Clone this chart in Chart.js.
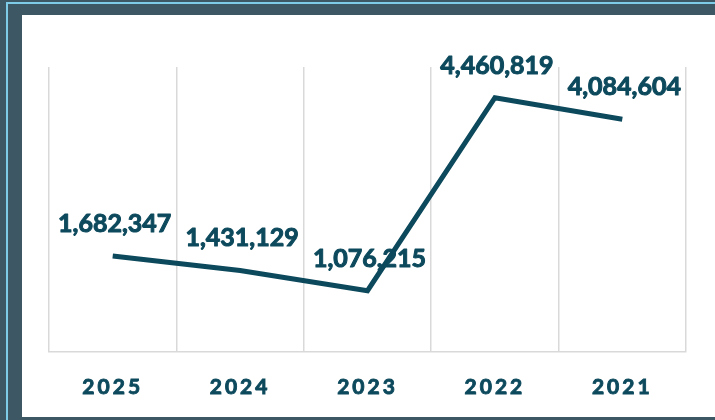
<!DOCTYPE html>
<html>
<head>
<meta charset="utf-8">
<script src="https://cdn.jsdelivr.net/npm/chart.js@4/dist/chart.umd.min.js"></script>
<style>
  html, body { margin: 0; padding: 0; }
  body { width: 715px; height: 420px; overflow: hidden; background: #3e5765; position: relative; }
  .stripe { position: absolute; left: 6px; top: 2px; width: 740px; height: 440px;
            border-left: 2px solid #7ecbe8; border-top: 2px solid #7ecbe8; }
  .panel { position: absolute; left: 22px; top: 15px; width: 720px; height: 402px; background: #ffffff; }
  #chart { position: absolute; left: 0; top: 0; }
</style>
</head>
<body>
<div class="stripe"></div>
<div class="panel"></div>
<canvas id="chart" width="715" height="420"></canvas>
<script>
const years = ['2025', '2024', '2023', '2022', '2021'];
const totals = [1682347, 1431129, 1076215, 4460819, 4084604];
const yMax = 5000000;

const ink = '#0c495c';

// tick labels are spaced out a bit, values drawn above each point
const spacing = {
    id: 'spacing',
    beforeDraw(chart) { chart.ctx.letterSpacing = '3px'; },
    beforeDatasetsDraw(chart) { chart.ctx.letterSpacing = '0px'; }
};

const valueLabels = {
    id: 'valueLabels',
    afterDatasetsDraw(chart) {
        const ctx = chart.ctx;
        const meta = chart.getDatasetMeta(0);
        ctx.save();
        ctx.font = 'bold 25px Lato';
        ctx.fillStyle = ink;
        ctx.strokeStyle = ink;
        ctx.lineWidth = 1;
        ctx.lineJoin = 'round';
        ctx.textAlign = 'center';
        ctx.textBaseline = 'middle';
        meta.data.forEach((pt, i) => {
            const txt = totals[i].toLocaleString('en-US');
            ctx.strokeText(txt, pt.x + 2, pt.y - 32);
            ctx.fillText(txt, pt.x + 2, pt.y - 32);
        });
        ctx.restore();
    }
};

Chart.defaults.font.family = 'Lato';

new Chart(document.getElementById('chart'), {
    type: 'line',
    data: {
        labels: years,
        datasets: [{
            data: totals,
            borderColor: ink,
            borderWidth: 5,
            borderJoinStyle: 'miter',
            pointRadius: 0,
            tension: 0,
            fill: false
        }]
    },
    options: {
        responsive: false,
        animation: false,
        layout: { padding: { left: 49, right: 29, top: 67, bottom: 0 } },
        plugins: {
            legend: { display: false },
            tooltip: { enabled: false },
            title: { display: false }
        },
        scales: {
            x: {
                offset: true,
                grid: { offset: true, color: '#d9d9d9', lineWidth: 1.5, drawTicks: false },
                border: { color: '#d9d9d9', width: 1.5 },
                ticks: {
                    color: ink,
                    textStrokeColor: ink,
                    textStrokeWidth: 0.9,
                    font: { size: 21, weight: 'bold' },
                    padding: 23,
                    maxRotation: 0,
                    autoSkip: false
                },
                afterFit(scale) { scale.height = 68; }
            },
            y: {
                display: false,
                min: 0,
                max: yMax
            }
        }
    },
    plugins: [spacing, valueLabels]
});
</script>
</body>
</html>
